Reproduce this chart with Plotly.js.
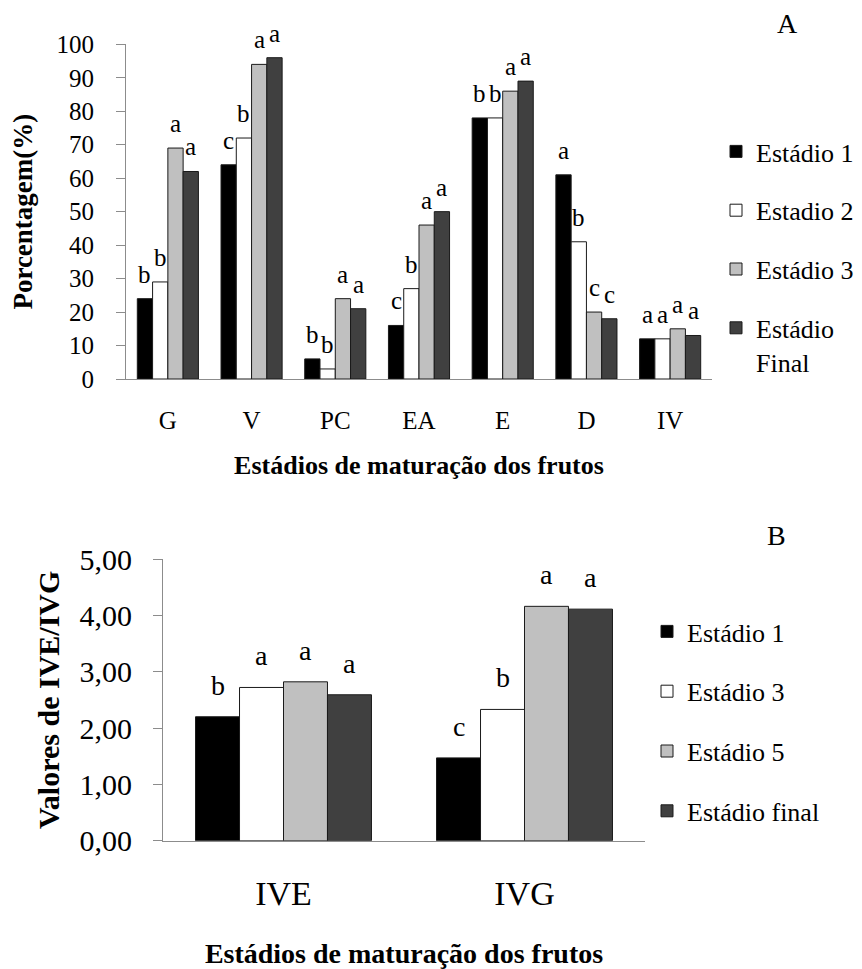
<!DOCTYPE html>
<html>
<head>
<meta charset="utf-8">
<script src="https://cdn.plot.ly/plotly-3.0.1.min.js"></script>
<style>
  html, body { margin: 0; padding: 0; background: #fff; }
  #chart { width: 862px; height: 969px; }
</style>
</head>
<body>
<div id="chart"></div>
<script>
// Panel A: germination percentages by fruit maturation stage
const catsA = ['G', 'V', 'PC', 'EA', 'E', 'D', 'IV'];
const namesA = ['Estádio 1', 'Estadio 2', 'Estádio 3', 'Estádio<br>Final'];
const est1A = [24, 64, 6, 16, 78, 61, 12];
const est2A = [29, 72, 3, 27, 78, 41, 12];
const est3A = [69, 94, 24, 46, 86, 20, 15];
const estFA = [62, 96, 21, 50, 89, 18, 13];
const let1A = ['b', 'c', 'b', 'c', 'b', 'a', 'a'];
const let2A = ['b', 'b', 'b', 'b', 'b', 'b', 'a'];
const let3A = ['a', 'a', 'a', 'a', 'a', 'c', 'a'];
const letFA = ['a', 'a', 'a', 'a', 'a', 'c', 'a'];
const ticksA = [0, 10, 20, 30, 40, 50, 60, 70, 80, 90, 100];

// Panel B: IVE / IVG indices
const catsB = ['IVE', 'IVG'];
const namesB = ['Estádio 1', 'Estádio 3', 'Estádio 5', 'Estádio final'];
const est1B = [2.20, 1.47];
const est3B = [2.72, 2.33];
const est5B = [2.82, 4.16];
const estFB = [2.59, 4.11];
const let1B = ['b', 'c'];
const let3B = ['a', 'b'];
const let5B = ['a', 'a'];
const letFB = ['a', 'a'];
const ticksB = [0, 1, 2, 3, 4, 5];

const fills = ['#000000', '#ffffff', '#c0c0c0', '#404040'];
const FONT = '"Liberation Serif", "Times New Roman", Times, serif';
const BARGAP = 0.27;

const seriesA = [est1A, est2A, est3A, estFA];
const lettersA = [let1A, let2A, let3A, letFA];
const seriesB = [est1B, est3B, est5B, estFB];
const lettersB = [let1B, let3B, let5B, letFB];

const traces = [];
seriesA.forEach((vals, i) => {
  traces.push({
    type: 'bar', x: catsA, y: vals, name: namesA[i],
    xaxis: 'x', yaxis: 'y', legend: 'legend', legendgroup: 'A' + i,
    marker: { color: fills[i], line: { color: '#1a1a1a', width: 1 } },
    hoverinfo: 'skip'
  });
});
seriesB.forEach((vals, i) => {
  traces.push({
    type: 'bar', x: catsB, y: vals, name: namesB[i],
    xaxis: 'x2', yaxis: 'y2', legend: 'legend2', legendgroup: 'B' + i,
    marker: { color: fills[i], line: { color: '#1a1a1a', width: 1 } },
    hoverinfo: 'skip'
  });
});

// significance letters placed over each bar (category index + group offset)
const annotations = [];
function addLetters(series, letters, xref, yref, size, shift) {
  const n = series.length;
  const w = (1 - BARGAP) / n;
  series.forEach((vals, i) => {
    vals.forEach((v, j) => {
      annotations.push({
        x: j + (i - (n - 1) / 2) * w, y: v, xref: xref, yref: yref,
        text: letters[i][j], showarrow: false, yanchor: 'bottom',
        yshift: shift, font: { family: FONT, size: size, color: '#000' }
      });
    });
  });
}
addLetters(seriesA, lettersA, 'x', 'y', 25, 9);
addLetters(seriesB, lettersB, 'x2', 'y2', 28, 14);

annotations.push({
  x: 800 / 862, y: 1 - 23 / 969, xref: 'paper', yref: 'paper', yanchor: 'middle',
  text: 'A', showarrow: false, font: { family: FONT, size: 28, color: '#000' }
});
annotations.push({
  x: 788 / 862, y: 1 - 535 / 969, xref: 'paper', yref: 'paper', yanchor: 'middle',
  text: 'B', showarrow: false, font: { family: FONT, size: 28, color: '#000' }
});

const axisLine = '#8c8c8c';

const layout = {
  width: 862, height: 969, autosize: false,
  margin: { l: 0, r: 0, t: 0, b: 0 },
  paper_bgcolor: '#fff', plot_bgcolor: '#fff',
  barmode: 'group', bargap: BARGAP, bargroupgap: 0,
  separators: ',.',
  font: { family: FONT, color: '#000' },
  xaxis: {
    domain: [126 / 862, 712 / 862], anchor: 'y',
    type: 'category', showline: true, linecolor: axisLine, linewidth: 1,
    ticks: '', showgrid: false, zeroline: false, fixedrange: true,
    tickfont: { family: FONT, size: 25, color: '#000' }, ticklabelstandoff: 19,
    title: { text: '<b>Estádios de maturação dos frutos</b>', standoff: 22,
             font: { family: FONT, size: 26, color: '#000' } }
  },
  yaxis: {
    domain: [1 - 379 / 969, 1 - 44.3 / 969], anchor: 'x',
    range: [0, 100], tickvals: ticksA, showline: true, linecolor: axisLine, linewidth: 1,
    ticks: 'outside', ticklen: 9, tickcolor: axisLine, showgrid: false, zeroline: false,
    tickfont: { family: FONT, size: 25, color: '#000' }, ticklabelstandoff: 17,
    title: { text: '<b>Porcentagem(%)</b>', standoff: 16,
             font: { family: FONT, size: 27, color: '#000' } }
  },
  xaxis2: {
    domain: [163 / 862, 645 / 862], anchor: 'y2',
    type: 'category', showline: true, linecolor: axisLine, linewidth: 1,
    ticks: '', showgrid: false, zeroline: false,
    tickfont: { family: FONT, size: 34, color: '#000' }, ticklabelstandoff: 22,
    title: { text: '<b>Estádios de maturação dos frutos</b>', standoff: 42,
             font: { family: FONT, size: 28, color: '#000' } }
  },
  yaxis2: {
    domain: [1 - 840.7 / 969, 1 - 559 / 969], anchor: 'x2',
    range: [0, 5], tickvals: ticksB, tickformat: '.2f',
    showline: true, linecolor: axisLine, linewidth: 1,
    ticks: 'outside', ticklen: 9, tickcolor: axisLine, showgrid: false, zeroline: false,
    tickfont: { family: FONT, size: 30, color: '#000' }, ticklabelstandoff: 15,
    title: { text: '<b>Valores de IVE/IVG</b>', standoff: 10,
             font: { family: FONT, size: 30, color: '#000' } }
  },
  legend: {
    x: 716 / 862, xanchor: 'left', y: 1 - 128 / 969, yanchor: 'top',
    font: { family: FONT, size: 26, color: '#000' },
    tracegroupgap: 22, valign: 'top', bgcolor: 'rgba(0,0,0,0)'
  },
  legend2: {
    x: 647 / 862, xanchor: 'left', y: 1 - 608 / 969, yanchor: 'top',
    font: { family: FONT, size: 26, color: '#000' },
    tracegroupgap: 23, valign: 'top', bgcolor: 'rgba(0,0,0,0)'
  },
  annotations: annotations
};

Plotly.newPlot('chart', traces, layout, { staticPlot: true, displayModeBar: false });
</script>
</body>
</html>
